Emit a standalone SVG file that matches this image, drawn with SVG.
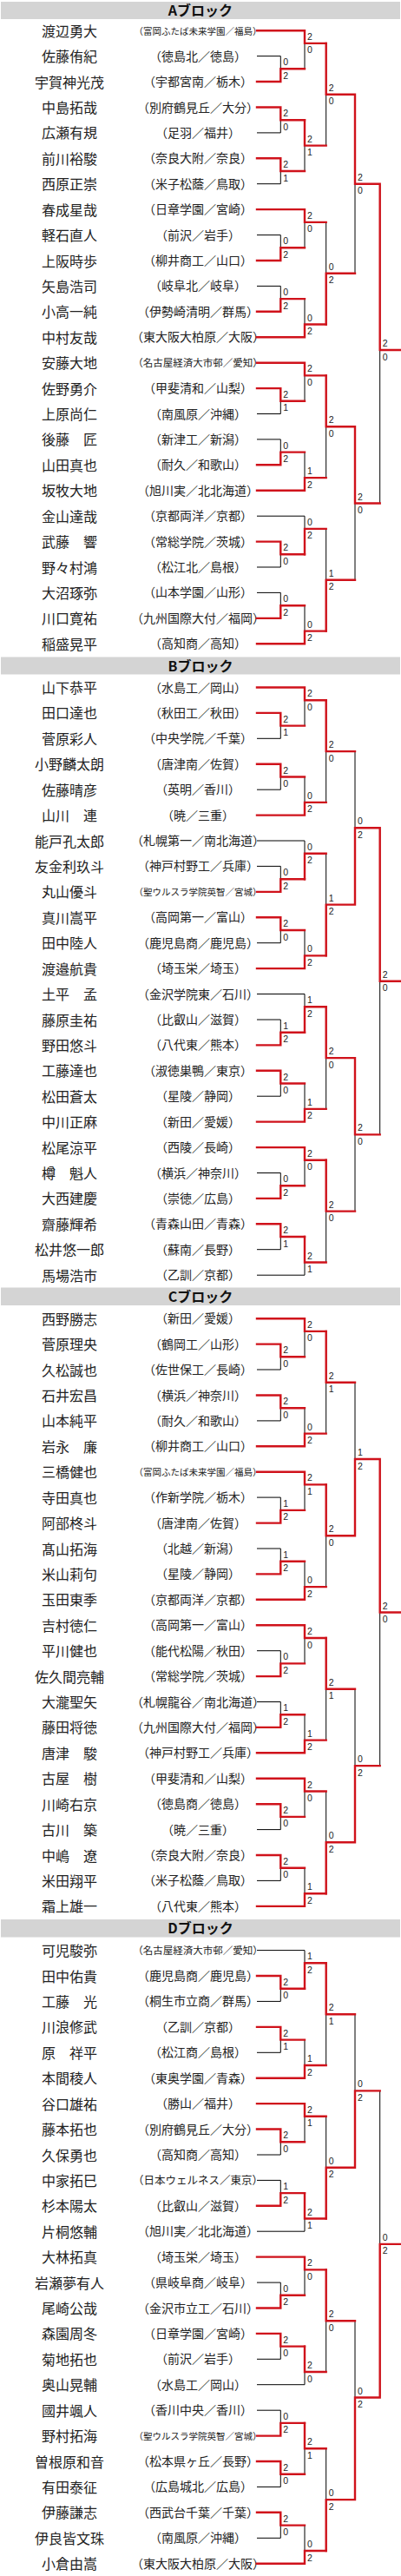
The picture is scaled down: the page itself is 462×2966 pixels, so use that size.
<svg xmlns="http://www.w3.org/2000/svg" width="462" height="2966" viewBox="0 0 462 2966">
<style>
.n{font-family:"Noto Sans CJK JP",sans-serif;font-size:16px;fill:#222;text-anchor:middle}
.s{font-family:"Noto Sans CJK JP",sans-serif;font-size:14px;fill:#222;text-anchor:middle}
.s1{font-size:12.5px}
.s2{font-size:11.5px}
.s3{font-size:10.5px}
.sc text{font-family:"Liberation Sans",Arial,sans-serif;font-size:10.5px;fill:#222}
.k{stroke:#000;stroke-width:1;fill:none}
.r{stroke:#d0121b;stroke-width:2.4;fill:none;stroke-linecap:square;stroke-linejoin:miter}
.hd{fill:#d4d4d4}
.ht{font-family:"Noto Sans CJK JP",sans-serif;font-weight:bold;font-size:16px;text-anchor:middle;fill:#111}
</style>
<rect width="462" height="2966" fill="#fff"/>
<g id="headers">
<rect class="hd" x="1" y="2" width="460" height="20"/><text class="ht" x="231" y="18">Aブロック</text>
<rect class="hd" x="1" y="756.5" width="460" height="20"/><text class="ht" x="231" y="772.5">Bブロック</text>
<rect class="hd" x="1" y="1482.5" width="460" height="20.5"/><text class="ht" x="231" y="1498.5">Cブロック</text>
<rect class="hd" x="1" y="2210" width="460" height="20.5"/><text class="ht" x="231" y="2226">Dブロック</text>
</g>
<g id="nodesA" transform="translate(0 35.2)">
<g id="a00"><text class="n" x="80" y="6.5">渡辺勇大</text><text class="s s3" x="228" y="4.5">（富岡ふたば未来学園／福島）</text></g>
<g id="a01" transform="translate(0 29.4)"><text class="n" x="80" y="6.5">佐藤侑紀</text><text class="s" x="228" y="5">（徳島北／徳島）</text></g>
<g id="a02" transform="translate(0 58.8)"><text class="n" x="80" y="6.5">宇賀神光茂</text><text class="s" x="228" y="5">（宇都宮南／栃木）</text></g>
<g id="a03" transform="translate(0 88.3)"><text class="n" x="80" y="6.5">中島拓哉</text><text class="s" x="228" y="5">（別府鶴見丘／大分）</text></g>
<g id="a04" transform="translate(0 117.7)"><text class="n" x="80" y="6.5">広瀬有規</text><text class="s" x="228" y="5">（足羽／福井）</text></g>
<g id="a05" transform="translate(0 147.1)"><text class="n" x="80" y="6.5">前川裕駿</text><text class="s" x="228" y="5">（奈良大附／奈良）</text></g>
<g id="a06" transform="translate(0 176.5)"><text class="n" x="80" y="6.5">西原正崇</text><text class="s" x="228" y="5">（米子松蔭／鳥取）</text></g>
<g id="a07" transform="translate(0 205.9)"><text class="n" x="80" y="6.5">春成星哉</text><text class="s" x="228" y="5">（日章学園／宮崎）</text></g>
<g id="a08" transform="translate(0 235.4)"><text class="n" x="80" y="6.5">軽石直人</text><text class="s" x="228" y="5">（前沢／岩手）</text></g>
<g id="a09" transform="translate(0 264.8)"><text class="n" x="80" y="6.5">上阪時歩</text><text class="s" x="228" y="5">（柳井商工／山口）</text></g>
<g id="a10" transform="translate(0 294.2)"><text class="n" x="80" y="6.5">矢島浩司</text><text class="s" x="228" y="5">（岐阜北／岐阜）</text></g>
<g id="a11" transform="translate(0 323.6)"><text class="n" x="80" y="6.5">小高一純</text><text class="s" x="228" y="5">（伊勢崎清明／群馬）</text></g>
<g id="a12" transform="translate(0 353)"><text class="n" x="80" y="6.5">中村友哉</text><text class="s" x="228" y="5">（東大阪大柏原／大阪）</text></g>
<g id="a13" transform="translate(0 382.5)"><text class="n" x="80" y="6.5">安藤大地</text><text class="s s2" x="228" y="4.5">（名古屋経済大市邨／愛知）</text></g>
<g id="a14" transform="translate(0 411.9)"><text class="n" x="80" y="6.5">佐野勇介</text><text class="s" x="228" y="5">（甲斐清和／山梨）</text></g>
<g id="a15" transform="translate(0 441.3)"><text class="n" x="80" y="6.5">上原尚仁</text><text class="s" x="228" y="5">（南風原／沖縄）</text></g>
<g id="a16" transform="translate(0 470.7)"><text class="n" x="80" y="6.5">後藤　匠</text><text class="s" x="228" y="5">（新津工／新潟）</text></g>
<g id="a17" transform="translate(0 500.1)"><text class="n" x="80" y="6.5">山田真也</text><text class="s" x="228" y="5">（耐久／和歌山）</text></g>
<g id="a18" transform="translate(0 529.6)"><text class="n" x="80" y="6.5">坂牧大地</text><text class="s" x="228" y="5">（旭川実／北北海道）</text></g>
<g id="a19" transform="translate(0 559)"><text class="n" x="80" y="6.5">金山達哉</text><text class="s" x="228" y="5">（京都両洋／京都）</text></g>
<g id="a20" transform="translate(0 588.4)"><text class="n" x="80" y="6.5">武藤　響</text><text class="s" x="228" y="5">（常総学院／茨城）</text></g>
<g id="a21" transform="translate(0 617.8)"><text class="n" x="80" y="6.5">野々村鴻</text><text class="s" x="228" y="5">（松江北／島根）</text></g>
<g id="a22" transform="translate(0 647.2)"><text class="n" x="80" y="6.5">大沼琢弥</text><text class="s" x="228" y="5">（山本学園／山形）</text></g>
<g id="a23" transform="translate(0 676.7)"><text class="n" x="80" y="6.5">川口寛祐</text><text class="s" x="228" y="5">（九州国際大付／福岡）</text></g>
<g id="a24" transform="translate(0 706.1)"><text class="n" x="80" y="6.5">稲盛晃平</text><text class="s" x="228" y="5">（高知商／高知）</text></g>
</g>
<g id="nodesB" transform="translate(0 791.5)">
<g id="b00"><text class="n" x="80" y="6.5">山下恭平</text><text class="s" x="228" y="5">（水島工／岡山）</text></g>
<g id="b01" transform="translate(0 29.4)"><text class="n" x="80" y="6.5">田口達也</text><text class="s" x="228" y="5">（秋田工／秋田）</text></g>
<g id="b02" transform="translate(0 58.8)"><text class="n" x="80" y="6.5">菅原彩人</text><text class="s" x="228" y="5">（中央学院／千葉）</text></g>
<g id="b03" transform="translate(0 88.3)"><text class="n" x="80" y="6.5">小野麟太朗</text><text class="s" x="228" y="5">（唐津南／佐賀）</text></g>
<g id="b04" transform="translate(0 117.7)"><text class="n" x="80" y="6.5">佐藤晴彦</text><text class="s" x="228" y="5">（英明／香川）</text></g>
<g id="b05" transform="translate(0 147.1)"><text class="n" x="80" y="6.5">山川　連</text><text class="s" x="228" y="5">（暁／三重）</text></g>
<g id="b06" transform="translate(0 176.5)"><text class="n" x="80" y="6.5">能戸孔太郎</text><text class="s" x="228" y="5">（札幌第一／南北海道）</text></g>
<g id="b07" transform="translate(0 205.9)"><text class="n" x="80" y="6.5">友金利玖斗</text><text class="s" x="228" y="5">（神戸村野工／兵庫）</text></g>
<g id="b08" transform="translate(0 235.4)"><text class="n" x="80" y="6.5">丸山優斗</text><text class="s s3" x="228" y="4.5">（聖ウルスラ学院英智／宮城）</text></g>
<g id="b09" transform="translate(0 264.8)"><text class="n" x="80" y="6.5">真川嵩平</text><text class="s" x="228" y="5">（高岡第一／富山）</text></g>
<g id="b10" transform="translate(0 294.2)"><text class="n" x="80" y="6.5">田中陸人</text><text class="s" x="228" y="5">（鹿児島商／鹿児島）</text></g>
<g id="b11" transform="translate(0 323.6)"><text class="n" x="80" y="6.5">渡邉航貴</text><text class="s" x="228" y="5">（埼玉栄／埼玉）</text></g>
<g id="b12" transform="translate(0 353)"><text class="n" x="80" y="6.5">土平　孟</text><text class="s" x="228" y="5">（金沢学院東／石川）</text></g>
<g id="b13" transform="translate(0 382.5)"><text class="n" x="80" y="6.5">藤原圭祐</text><text class="s" x="228" y="5">（比叡山／滋賀）</text></g>
<g id="b14" transform="translate(0 411.9)"><text class="n" x="80" y="6.5">野田悠斗</text><text class="s" x="228" y="5">（八代東／熊本）</text></g>
<g id="b15" transform="translate(0 441.3)"><text class="n" x="80" y="6.5">工藤達也</text><text class="s" x="228" y="5">（淑徳巣鴨／東京）</text></g>
<g id="b16" transform="translate(0 470.7)"><text class="n" x="80" y="6.5">松田蒼太</text><text class="s" x="228" y="5">（星陵／静岡）</text></g>
<g id="b17" transform="translate(0 500.1)"><text class="n" x="80" y="6.5">中川正麻</text><text class="s" x="228" y="5">（新田／愛媛）</text></g>
<g id="b18" transform="translate(0 529.6)"><text class="n" x="80" y="6.5">松尾涼平</text><text class="s" x="228" y="5">（西陵／長崎）</text></g>
<g id="b19" transform="translate(0 559)"><text class="n" x="80" y="6.5">樽　魁人</text><text class="s" x="228" y="5">（横浜／神奈川）</text></g>
<g id="b20" transform="translate(0 588.4)"><text class="n" x="80" y="6.5">大西建慶</text><text class="s" x="228" y="5">（崇徳／広島）</text></g>
<g id="b21" transform="translate(0 617.8)"><text class="n" x="80" y="6.5">齋藤輝希</text><text class="s" x="228" y="5">（青森山田／青森）</text></g>
<g id="b22" transform="translate(0 647.2)"><text class="n" x="80" y="6.5">松井悠一郎</text><text class="s" x="228" y="5">（蘇南／長野）</text></g>
<g id="b23" transform="translate(0 676.7)"><text class="n" x="80" y="6.5">馬場浩市</text><text class="s" x="228" y="5">（乙訓／京都）</text></g>
</g>
<g id="nodesC" transform="translate(0 1518.2)">
<g id="c00"><text class="n" x="80" y="6.5">西野勝志</text><text class="s" x="228" y="5">（新田／愛媛）</text></g>
<g id="c01" transform="translate(0 29.4)"><text class="n" x="80" y="6.5">菅原理央</text><text class="s" x="228" y="5">（鶴岡工／山形）</text></g>
<g id="c02" transform="translate(0 58.8)"><text class="n" x="80" y="6.5">久松誠也</text><text class="s" x="228" y="5">（佐世保工／長崎）</text></g>
<g id="c03" transform="translate(0 88.3)"><text class="n" x="80" y="6.5">石井宏昌</text><text class="s" x="228" y="5">（横浜／神奈川）</text></g>
<g id="c04" transform="translate(0 117.7)"><text class="n" x="80" y="6.5">山本純平</text><text class="s" x="228" y="5">（耐久／和歌山）</text></g>
<g id="c05" transform="translate(0 147.1)"><text class="n" x="80" y="6.5">岩永　廉</text><text class="s" x="228" y="5">（柳井商工／山口）</text></g>
<g id="c06" transform="translate(0 176.5)"><text class="n" x="80" y="6.5">三橋健也</text><text class="s s3" x="228" y="4.5">（富岡ふたば未来学園／福島）</text></g>
<g id="c07" transform="translate(0 205.9)"><text class="n" x="80" y="6.5">寺田真也</text><text class="s" x="228" y="5">（作新学院／栃木）</text></g>
<g id="c08" transform="translate(0 235.4)"><text class="n" x="80" y="6.5">阿部柊斗</text><text class="s" x="228" y="5">（唐津南／佐賀）</text></g>
<g id="c09" transform="translate(0 264.8)"><text class="n" x="80" y="6.5">髙山拓海</text><text class="s" x="228" y="5">（北越／新潟）</text></g>
<g id="c10" transform="translate(0 294.2)"><text class="n" x="80" y="6.5">米山莉句</text><text class="s" x="228" y="5">（星陵／静岡）</text></g>
<g id="c11" transform="translate(0 323.6)"><text class="n" x="80" y="6.5">玉田東季</text><text class="s" x="228" y="5">（京都両洋／京都）</text></g>
<g id="c12" transform="translate(0 353)"><text class="n" x="80" y="6.5">吉村徳仁</text><text class="s" x="228" y="5">（高岡第一／富山）</text></g>
<g id="c13" transform="translate(0 382.5)"><text class="n" x="80" y="6.5">平川健也</text><text class="s" x="228" y="5">（能代松陽／秋田）</text></g>
<g id="c14" transform="translate(0 411.9)"><text class="n" x="80" y="6.5">佐久間亮輔</text><text class="s" x="228" y="5">（常総学院／茨城）</text></g>
<g id="c15" transform="translate(0 441.3)"><text class="n" x="80" y="6.5">大瀧聖矢</text><text class="s" x="228" y="5">（札幌龍谷／南北海道）</text></g>
<g id="c16" transform="translate(0 470.7)"><text class="n" x="80" y="6.5">藤田将徳</text><text class="s" x="228" y="5">（九州国際大付／福岡）</text></g>
<g id="c17" transform="translate(0 500.1)"><text class="n" x="80" y="6.5">唐津　駿</text><text class="s" x="228" y="5">（神戸村野工／兵庫）</text></g>
<g id="c18" transform="translate(0 529.6)"><text class="n" x="80" y="6.5">古屋　樹</text><text class="s" x="228" y="5">（甲斐清和／山梨）</text></g>
<g id="c19" transform="translate(0 559)"><text class="n" x="80" y="6.5">川崎右京</text><text class="s" x="228" y="5">（徳島商／徳島）</text></g>
<g id="c20" transform="translate(0 588.4)"><text class="n" x="80" y="6.5">古川　築</text><text class="s" x="228" y="5">（暁／三重）</text></g>
<g id="c21" transform="translate(0 617.8)"><text class="n" x="80" y="6.5">中嶋　遼</text><text class="s" x="228" y="5">（奈良大附／奈良）</text></g>
<g id="c22" transform="translate(0 647.2)"><text class="n" x="80" y="6.5">米田翔平</text><text class="s" x="228" y="5">（米子松蔭／鳥取）</text></g>
<g id="c23" transform="translate(0 676.7)"><text class="n" x="80" y="6.5">霜上雄一</text><text class="s" x="228" y="5">（八代東／熊本）</text></g>
</g>
<g id="nodesD" transform="translate(0 2245.6)">
<g id="d00"><text class="n" x="80" y="6.5">可児駿弥</text><text class="s s2" x="228" y="4.5">（名古屋経済大市邨／愛知）</text></g>
<g id="d01" transform="translate(0 29.4)"><text class="n" x="80" y="6.5">田中佑貴</text><text class="s" x="228" y="5">（鹿児島商／鹿児島）</text></g>
<g id="d02" transform="translate(0 58.8)"><text class="n" x="80" y="6.5">工藤　光</text><text class="s" x="228" y="5">（桐生市立商／群馬）</text></g>
<g id="d03" transform="translate(0 88.3)"><text class="n" x="80" y="6.5">川浪修武</text><text class="s" x="228" y="5">（乙訓／京都）</text></g>
<g id="d04" transform="translate(0 117.7)"><text class="n" x="80" y="6.5">原　祥平</text><text class="s" x="228" y="5">（松江商／島根）</text></g>
<g id="d05" transform="translate(0 147.1)"><text class="n" x="80" y="6.5">本間稜人</text><text class="s" x="228" y="5">（東奥学園／青森）</text></g>
<g id="d06" transform="translate(0 176.5)"><text class="n" x="80" y="6.5">谷口雄祐</text><text class="s" x="228" y="5">（勝山／福井）</text></g>
<g id="d07" transform="translate(0 205.9)"><text class="n" x="80" y="6.5">藤本拓也</text><text class="s" x="228" y="5">（別府鶴見丘／大分）</text></g>
<g id="d08" transform="translate(0 235.4)"><text class="n" x="80" y="6.5">久保勇也</text><text class="s" x="228" y="5">（高知商／高知）</text></g>
<g id="d09" transform="translate(0 264.8)"><text class="n" x="80" y="6.5">中家拓巳</text><text class="s s1" x="228" y="4.5">（日本ウェルネス／東京）</text></g>
<g id="d10" transform="translate(0 294.2)"><text class="n" x="80" y="6.5">杉本陽太</text><text class="s" x="228" y="5">（比叡山／滋賀）</text></g>
<g id="d11" transform="translate(0 323.6)"><text class="n" x="80" y="6.5">片桐悠輔</text><text class="s" x="228" y="5">（旭川実／北北海道）</text></g>
<g id="d12" transform="translate(0 353)"><text class="n" x="80" y="6.5">大林拓真</text><text class="s" x="228" y="5">（埼玉栄／埼玉）</text></g>
<g id="d13" transform="translate(0 382.5)"><text class="n" x="80" y="6.5">岩瀬夢有人</text><text class="s" x="228" y="5">（県岐阜商／岐阜）</text></g>
<g id="d14" transform="translate(0 411.9)"><text class="n" x="80" y="6.5">尾崎公哉</text><text class="s" x="228" y="5">（金沢市立工／石川）</text></g>
<g id="d15" transform="translate(0 441.3)"><text class="n" x="80" y="6.5">森園周冬</text><text class="s" x="228" y="5">（日章学園／宮崎）</text></g>
<g id="d16" transform="translate(0 470.7)"><text class="n" x="80" y="6.5">菊地拓也</text><text class="s" x="228" y="5">（前沢／岩手）</text></g>
<g id="d17" transform="translate(0 500.1)"><text class="n" x="80" y="6.5">奥山晃輔</text><text class="s" x="228" y="5">（水島工／岡山）</text></g>
<g id="d18" transform="translate(0 529.6)"><text class="n" x="80" y="6.5">國井颯人</text><text class="s" x="228" y="5">（香川中央／香川）</text></g>
<g id="d19" transform="translate(0 559)"><text class="n" x="80" y="6.5">野村拓海</text><text class="s s3" x="228" y="4.5">（聖ウルスラ学院英智／宮城）</text></g>
<g id="d20" transform="translate(0 588.4)"><text class="n" x="80" y="6.5">曽根原和音</text><text class="s" x="228" y="5">（松本県ヶ丘／長野）</text></g>
<g id="d21" transform="translate(0 617.8)"><text class="n" x="80" y="6.5">有田泰征</text><text class="s" x="228" y="5">（広島城北／広島）</text></g>
<g id="d22" transform="translate(0 647.2)"><text class="n" x="80" y="6.5">伊藤謙志</text><text class="s" x="228" y="5">（西武台千葉／千葉）</text></g>
<g id="d23" transform="translate(0 676.7)"><text class="n" x="80" y="6.5">伊良皆文珠</text><text class="s" x="228" y="5">（南風原／沖縄）</text></g>
<g id="d24" transform="translate(0 706.1)"><text class="n" x="80" y="6.5">小倉由嵩</text><text class="s" x="228" y="5">（東大阪大柏原／大阪）</text></g>
</g>
<g id="connectors">
<g id="connA" transform="translate(0 35.2)">
<path class="k" d="M296 29.4H323.3M296 117.7H323.3M296 176.5H323.3M296 235.4H323.3M296 294.2H323.3M296 441.3H323.3M296 470.7H323.3M296 559H351M296 617.8H323.3M296 647.2H323.3"/>
<path class="k" d="M323.3 29.4V58.8M323.3 88.3V117.7M323.3 147.1V176.5M323.3 235.4V264.8M323.3 294.2V323.6M323.3 411.9V441.3M323.3 470.7V500.1M323.3 588.4V617.8M323.3 647.2V676.7M351 0V44.1M351 103V161.8M351 205.9V250.1M351 308.9V353M351 382.5V426.6M351 485.4V529.6M351 559V603.1M351 662V706.1M375.7 14.7V132.4M375.7 220.7V338.3M375.7 397.2V514.9M375.7 573.7V691.4M409 73.6V279.5M409 456V632.5M437.7 176.5V544.3"/>
<path class="r" d="M296 58.8H323.3V44.1H351M296 88.3H323.3V103H351M296 147.1H323.3V161.8H351M296 264.8H323.3V250.1H351M296 323.6H323.3V308.9H351M296 411.9H323.3V426.6H351M296 500.1H323.3V485.4H351M296 588.4H323.3V603.1H351M296 676.7H323.3V662H351"/>
<path class="r" d="M296 0H351V14.7H375.7M296 205.9H351V220.7H375.7M296 353H351V338.3H375.7M296 382.5H351V397.2H375.7M296 529.6H351V514.9H375.7M296 706.1H351V691.4H375.7M351 103V132.4H375.7M351 603.1V573.7H375.7"/>
<path class="r" d="M375.7 14.7V73.6H409M375.7 338.3V279.5H409M375.7 397.2V456H409M375.7 691.4V632.5H409M409 73.6V176.5H437.7M409 456V544.3H437.7M437.7 176.5V367.8H462"/>
<g class="sc">
<g transform="translate(326.3 44.1)"><text y="-4">0</text><text y="11.5">2</text></g>
<g transform="translate(326.3 103)"><text y="-4">2</text><text y="11.5">0</text></g>
<g transform="translate(326.3 161.8)"><text y="-4">2</text><text y="11.5">1</text></g>
<g transform="translate(326.3 250.1)"><text y="-4">0</text><text y="11.5">2</text></g>
<g transform="translate(326.3 308.9)"><text y="-4">0</text><text y="11.5">2</text></g>
<g transform="translate(326.3 426.6)"><text y="-4">2</text><text y="11.5">1</text></g>
<g transform="translate(326.3 485.4)"><text y="-4">0</text><text y="11.5">2</text></g>
<g transform="translate(326.3 603.1)"><text y="-4">2</text><text y="11.5">0</text></g>
<g transform="translate(326.3 662)"><text y="-4">0</text><text y="11.5">2</text></g>
<g transform="translate(354 14.7)"><text y="-4">2</text><text y="11.5">0</text></g>
<g transform="translate(354 132.4)"><text y="-4">2</text><text y="11.5">1</text></g>
<g transform="translate(354 220.7)"><text y="-4">2</text><text y="11.5">0</text></g>
<g transform="translate(354 338.3)"><text y="-4">0</text><text y="11.5">2</text></g>
<g transform="translate(354 397.2)"><text y="-4">2</text><text y="11.5">0</text></g>
<g transform="translate(354 514.9)"><text y="-4">1</text><text y="11.5">2</text></g>
<g transform="translate(354 573.7)"><text y="-4">0</text><text y="11.5">2</text></g>
<g transform="translate(354 691.4)"><text y="-4">0</text><text y="11.5">2</text></g>
<g transform="translate(378.7 73.6)"><text y="-4">2</text><text y="11.5">0</text></g>
<g transform="translate(378.7 279.5)"><text y="-4">0</text><text y="11.5">2</text></g>
<g transform="translate(378.7 456)"><text y="-4">2</text><text y="11.5">0</text></g>
<g transform="translate(378.7 632.5)"><text y="-4">1</text><text y="11.5">2</text></g>
<g transform="translate(412 176.5)"><text y="-4">2</text><text y="11.5">0</text></g>
<g transform="translate(412 544.3)"><text y="-4">2</text><text y="11.5">0</text></g>
<g transform="translate(440.7 367.8)"><text y="-4">2</text><text y="11.5">0</text></g>
</g>
</g>
<g id="connB" transform="translate(0 791.5)">
<path class="k" d="M296 58.8H323.3M296 117.7H323.3M296 176.5H351M296 205.9H323.3M296 294.2H323.3M296 353H351M296 382.5H323.3M296 470.7H323.3M296 559H323.3M296 647.2H323.3M296 676.7H351"/>
<path class="k" d="M323.3 29.4V58.8M323.3 88.3V117.7M323.3 205.9V235.4M323.3 264.8V294.2M323.3 382.5V411.9M323.3 441.3V470.7M323.3 559V588.4M323.3 617.8V647.2M351 0V44.1M351 103V147.1M351 176.5V220.7M351 279.5V323.6M351 353V397.2M351 456V500.1M351 529.6V573.7M351 632.5V676.7M375.7 14.7V132.4M375.7 191.2V308.9M375.7 367.8V485.4M375.7 544.3V662M409 73.6V250.1M409 426.6V603.1M437.7 161.8V514.9"/>
<path class="r" d="M296 29.4H323.3V44.1H351M296 88.3H323.3V103H351M296 235.4H323.3V220.7H351M296 264.8H323.3V279.5H351M296 411.9H323.3V397.2H351M296 441.3H323.3V456H351M296 588.4H323.3V573.7H351M296 617.8H323.3V632.5H351"/>
<path class="r" d="M296 0H351V14.7H375.7M296 147.1H351V132.4H375.7M296 323.6H351V308.9H375.7M296 500.1H351V485.4H375.7M296 529.6H351V544.3H375.7M351 220.7V191.2H375.7M351 397.2V367.8H375.7M351 632.5V662H375.7"/>
<path class="r" d="M375.7 14.7V73.6H409M375.7 308.9V250.1H409M375.7 367.8V426.6H409M375.7 544.3V603.1H409M409 250.1V161.8H437.7M409 426.6V514.9H437.7M437.7 161.8V338.3H462"/>
<g class="sc">
<g transform="translate(326.3 44.1)"><text y="-4">2</text><text y="11.5">1</text></g>
<g transform="translate(326.3 103)"><text y="-4">2</text><text y="11.5">0</text></g>
<g transform="translate(326.3 220.7)"><text y="-4">0</text><text y="11.5">2</text></g>
<g transform="translate(326.3 279.5)"><text y="-4">2</text><text y="11.5">0</text></g>
<g transform="translate(326.3 397.2)"><text y="-4">1</text><text y="11.5">2</text></g>
<g transform="translate(326.3 456)"><text y="-4">2</text><text y="11.5">0</text></g>
<g transform="translate(326.3 573.7)"><text y="-4">0</text><text y="11.5">2</text></g>
<g transform="translate(326.3 632.5)"><text y="-4">2</text><text y="11.5">1</text></g>
<g transform="translate(354 14.7)"><text y="-4">2</text><text y="11.5">0</text></g>
<g transform="translate(354 132.4)"><text y="-4">0</text><text y="11.5">2</text></g>
<g transform="translate(354 191.2)"><text y="-4">0</text><text y="11.5">2</text></g>
<g transform="translate(354 308.9)"><text y="-4">0</text><text y="11.5">2</text></g>
<g transform="translate(354 367.8)"><text y="-4">1</text><text y="11.5">2</text></g>
<g transform="translate(354 485.4)"><text y="-4">1</text><text y="11.5">2</text></g>
<g transform="translate(354 544.3)"><text y="-4">2</text><text y="11.5">0</text></g>
<g transform="translate(354 662)"><text y="-4">2</text><text y="11.5">1</text></g>
<g transform="translate(378.7 73.6)"><text y="-4">2</text><text y="11.5">0</text></g>
<g transform="translate(378.7 250.1)"><text y="-4">1</text><text y="11.5">2</text></g>
<g transform="translate(378.7 426.6)"><text y="-4">2</text><text y="11.5">0</text></g>
<g transform="translate(378.7 603.1)"><text y="-4">2</text><text y="11.5">0</text></g>
<g transform="translate(412 161.8)"><text y="-4">0</text><text y="11.5">2</text></g>
<g transform="translate(412 514.9)"><text y="-4">2</text><text y="11.5">0</text></g>
<g transform="translate(440.7 338.3)"><text y="-4">2</text><text y="11.5">0</text></g>
</g>
</g>
<g id="connC" transform="translate(0 1518.2)">
<path class="k" d="M296 58.8H323.3M296 117.7H323.3M296 205.9H323.3M296 264.8H323.3M296 382.5H323.3M296 441.3H323.3M296 588.4H323.3M296 647.2H323.3"/>
<path class="k" d="M323.3 29.4V58.8M323.3 88.3V117.7M323.3 205.9V235.4M323.3 264.8V294.2M323.3 382.5V411.9M323.3 441.3V470.7M323.3 559V588.4M323.3 617.8V647.2M351 0V44.1M351 103V147.1M351 176.5V220.7M351 279.5V323.6M351 353V397.2M351 456V500.1M351 529.6V573.7M351 632.5V676.7M375.7 14.7V132.4M375.7 191.2V308.9M375.7 367.8V485.4M375.7 544.3V662M409 73.6V250.1M409 426.6V603.1M437.7 161.8V514.9"/>
<path class="r" d="M296 29.4H323.3V44.1H351M296 88.3H323.3V103H351M296 235.4H323.3V220.7H351M296 294.2H323.3V279.5H351M296 411.9H323.3V397.2H351M296 470.7H323.3V456H351M296 559H323.3V573.7H351M296 617.8H323.3V632.5H351"/>
<path class="r" d="M296 0H351V14.7H375.7M296 147.1H351V132.4H375.7M296 176.5H351V191.2H375.7M296 323.6H351V308.9H375.7M296 353H351V367.8H375.7M296 500.1H351V485.4H375.7M296 529.6H351V544.3H375.7M296 676.7H351V662H375.7"/>
<path class="r" d="M375.7 14.7V73.6H409M375.7 191.2V250.1H409M375.7 367.8V426.6H409M375.7 662V603.1H409M409 250.1V161.8H437.7M409 603.1V514.9H437.7M437.7 161.8V338.3H462"/>
<g class="sc">
<g transform="translate(326.3 44.1)"><text y="-4">2</text><text y="11.5">0</text></g>
<g transform="translate(326.3 103)"><text y="-4">2</text><text y="11.5">0</text></g>
<g transform="translate(326.3 220.7)"><text y="-4">1</text><text y="11.5">2</text></g>
<g transform="translate(326.3 279.5)"><text y="-4">1</text><text y="11.5">2</text></g>
<g transform="translate(326.3 397.2)"><text y="-4">0</text><text y="11.5">2</text></g>
<g transform="translate(326.3 456)"><text y="-4">1</text><text y="11.5">2</text></g>
<g transform="translate(326.3 573.7)"><text y="-4">2</text><text y="11.5">0</text></g>
<g transform="translate(326.3 632.5)"><text y="-4">2</text><text y="11.5">0</text></g>
<g transform="translate(354 14.7)"><text y="-4">2</text><text y="11.5">0</text></g>
<g transform="translate(354 132.4)"><text y="-4">0</text><text y="11.5">2</text></g>
<g transform="translate(354 191.2)"><text y="-4">2</text><text y="11.5">1</text></g>
<g transform="translate(354 308.9)"><text y="-4">0</text><text y="11.5">2</text></g>
<g transform="translate(354 367.8)"><text y="-4">2</text><text y="11.5">0</text></g>
<g transform="translate(354 485.4)"><text y="-4">1</text><text y="11.5">2</text></g>
<g transform="translate(354 544.3)"><text y="-4">2</text><text y="11.5">0</text></g>
<g transform="translate(354 662)"><text y="-4">1</text><text y="11.5">2</text></g>
<g transform="translate(378.7 73.6)"><text y="-4">2</text><text y="11.5">1</text></g>
<g transform="translate(378.7 250.1)"><text y="-4">2</text><text y="11.5">0</text></g>
<g transform="translate(378.7 426.6)"><text y="-4">2</text><text y="11.5">1</text></g>
<g transform="translate(378.7 603.1)"><text y="-4">0</text><text y="11.5">2</text></g>
<g transform="translate(412 161.8)"><text y="-4">1</text><text y="11.5">2</text></g>
<g transform="translate(412 514.9)"><text y="-4">0</text><text y="11.5">2</text></g>
<g transform="translate(440.7 338.3)"><text y="-4">2</text><text y="11.5">0</text></g>
</g>
</g>
<g id="connD" transform="translate(0 2245.6)">
<path class="k" d="M296 0H351M296 58.8H323.3M296 117.7H323.3M296 235.4H323.3M296 264.8H323.3M296 323.6H351M296 382.5H323.3M296 470.7H323.3M296 500.1H351M296 529.6H323.3M296 617.8H323.3M296 676.7H323.3"/>
<path class="k" d="M323.3 29.4V58.8M323.3 88.3V117.7M323.3 205.9V235.4M323.3 264.8V294.2M323.3 382.5V411.9M323.3 441.3V470.7M323.3 529.6V559M323.3 588.4V617.8M323.3 647.2V676.7M351 0V44.1M351 103V147.1M351 176.5V220.7M351 279.5V323.6M351 353V397.2M351 456V500.1M351 544.3V603.1M351 662V706.1M375.7 14.7V132.4M375.7 191.2V308.9M375.7 367.8V485.4M375.7 573.7V691.4M409 73.6V250.1M409 426.6V632.5M437.7 161.8V514.9"/>
<path class="r" d="M296 29.4H323.3V44.1H351M296 88.3H323.3V103H351M296 205.9H323.3V220.7H351M296 294.2H323.3V279.5H351M296 411.9H323.3V397.2H351M296 441.3H323.3V456H351M296 559H323.3V544.3H351M296 588.4H323.3V603.1H351M296 647.2H323.3V662H351"/>
<path class="r" d="M296 147.1H351V132.4H375.7M296 176.5H351V191.2H375.7M296 353H351V367.8H375.7M296 706.1H351V691.4H375.7M351 44.1V14.7H375.7M351 279.5V308.9H375.7M351 456V485.4H375.7M351 544.3V573.7H375.7"/>
<path class="r" d="M375.7 14.7V73.6H409M375.7 308.9V250.1H409M375.7 367.8V426.6H409M375.7 691.4V632.5H409M409 250.1V161.8H437.7M409 632.5V514.9H437.7M437.7 514.9V338.3H462"/>
<g class="sc">
<g transform="translate(326.3 44.1)"><text y="-4">2</text><text y="11.5">0</text></g>
<g transform="translate(326.3 103)"><text y="-4">2</text><text y="11.5">1</text></g>
<g transform="translate(326.3 220.7)"><text y="-4">2</text><text y="11.5">0</text></g>
<g transform="translate(326.3 279.5)"><text y="-4">1</text><text y="11.5">2</text></g>
<g transform="translate(326.3 397.2)"><text y="-4">0</text><text y="11.5">2</text></g>
<g transform="translate(326.3 456)"><text y="-4">2</text><text y="11.5">0</text></g>
<g transform="translate(326.3 544.3)"><text y="-4">0</text><text y="11.5">2</text></g>
<g transform="translate(326.3 603.1)"><text y="-4">2</text><text y="11.5">0</text></g>
<g transform="translate(326.3 662)"><text y="-4">2</text><text y="11.5">0</text></g>
<g transform="translate(354 14.7)"><text y="-4">1</text><text y="11.5">2</text></g>
<g transform="translate(354 132.4)"><text y="-4">1</text><text y="11.5">2</text></g>
<g transform="translate(354 191.2)"><text y="-4">2</text><text y="11.5">1</text></g>
<g transform="translate(354 308.9)"><text y="-4">2</text><text y="11.5">1</text></g>
<g transform="translate(354 367.8)"><text y="-4">2</text><text y="11.5">0</text></g>
<g transform="translate(354 485.4)"><text y="-4">2</text><text y="11.5">0</text></g>
<g transform="translate(354 573.7)"><text y="-4">2</text><text y="11.5">1</text></g>
<g transform="translate(354 691.4)"><text y="-4">0</text><text y="11.5">2</text></g>
<g transform="translate(378.7 73.6)"><text y="-4">2</text><text y="11.5">1</text></g>
<g transform="translate(378.7 250.1)"><text y="-4">0</text><text y="11.5">2</text></g>
<g transform="translate(378.7 426.6)"><text y="-4">2</text><text y="11.5">0</text></g>
<g transform="translate(378.7 632.5)"><text y="-4">0</text><text y="11.5">2</text></g>
<g transform="translate(412 161.8)"><text y="-4">0</text><text y="11.5">2</text></g>
<g transform="translate(412 514.9)"><text y="-4">0</text><text y="11.5">2</text></g>
<g transform="translate(440.7 338.3)"><text y="-4">0</text><text y="11.5">2</text></g>
</g>
</g>
</g>
</svg>
